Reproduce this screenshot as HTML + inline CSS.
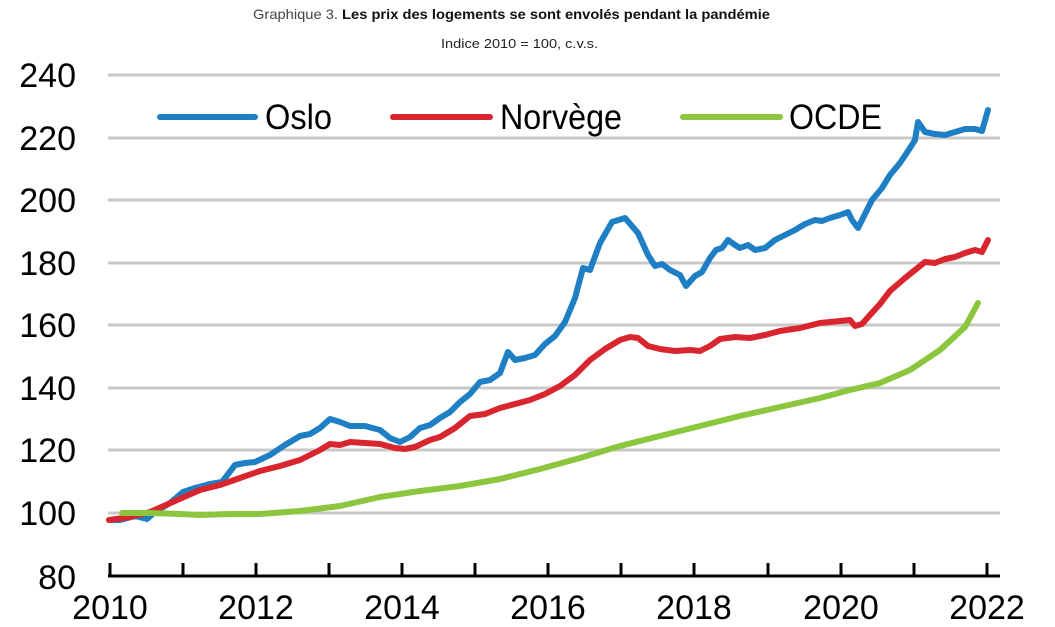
<!DOCTYPE html>
<html><head><meta charset="utf-8"><style>
body{margin:0;background:#fff;width:1055px;height:627px;overflow:hidden}
svg{display:block}
text{font-family:"Liberation Sans",sans-serif}
</style></head><body>
<svg width="1055" height="627" viewBox="0 0 1055 627">
<text x="253" y="19" font-size="14" textLength="517" lengthAdjust="spacingAndGlyphs" fill="#444"><tspan>Graphique 3. </tspan><tspan font-weight="bold" fill="#111">Les prix des logements se sont envolés pendant la pandémie</tspan></text>
<text x="441" y="48" font-size="13" textLength="157" lengthAdjust="spacingAndGlyphs" fill="#222">Indice 2010 = 100, c.v.s.</text>
<g stroke="#c8c8c8" stroke-width="3">
<line x1="108" x2="1000" y1="75" y2="75"/><line x1="108" x2="1000" y1="138" y2="138"/><line x1="108" x2="1000" y1="200" y2="200"/><line x1="108" x2="1000" y1="263" y2="263"/><line x1="108" x2="1000" y1="325" y2="325"/><line x1="108" x2="1000" y1="388" y2="388"/><line x1="108" x2="1000" y1="450" y2="450"/><line x1="108" x2="1000" y1="513" y2="513"/>
</g>
<g font-size="34" fill="#000" text-anchor="end">
<text x="76" y="87">240</text><text x="76" y="150">220</text><text x="76" y="212">200</text><text x="76" y="275">180</text><text x="76" y="337">160</text><text x="76" y="400">140</text><text x="76" y="462">120</text><text x="76" y="525">100</text><text x="76" y="589">80</text>
</g>
<g stroke="#000" stroke-width="3">
<line x1="108" x2="1000" y1="576" y2="576"/>
<line x1="110" x2="110" y1="563" y2="576"/><line x1="183" x2="183" y1="563" y2="576"/><line x1="256" x2="256" y1="563" y2="576"/><line x1="329" x2="329" y1="563" y2="576"/><line x1="402" x2="402" y1="563" y2="576"/><line x1="475" x2="475" y1="563" y2="576"/><line x1="548" x2="548" y1="563" y2="576"/><line x1="621" x2="621" y1="563" y2="576"/><line x1="694" x2="694" y1="563" y2="576"/><line x1="768" x2="768" y1="563" y2="576"/><line x1="841" x2="841" y1="563" y2="576"/><line x1="914" x2="914" y1="563" y2="576"/><line x1="987" x2="987" y1="563" y2="576"/>
</g>
<g font-size="34" fill="#000" text-anchor="middle">
<text x="110" y="619">2010</text><text x="256" y="619">2012</text><text x="402" y="619">2014</text><text x="548" y="619">2016</text><text x="694" y="619">2018</text><text x="841" y="619">2020</text><text x="987" y="619">2022</text>
</g>
<g fill="none" stroke-width="6" stroke-linejoin="round" stroke-linecap="round">
<polyline stroke="#1f7fc4" points="109,520 120,520 135,516 147,519 155,512 170,503 183,492 195,488 210,484 222,482 235,465 245,463 255,462 270,455 285,445 300,436 310,434 320,428 330,419 340,422 350,426 365,426 380,430 390,438 400,442 410,437 420,428 430,425 440,418 450,412 460,402 470,394 480,382 490,380 500,373 508,352 515,360 525,358 535,355 545,344 555,336 565,322 575,298 583,268 590,270 600,243 612,222 625,218 638,233 648,255 655,266 662,264 670,270 680,275 686,286 695,276 702,272 710,258 716,250 722,248 728,240 735,245 740,248 748,245 755,250 765,248 775,240 785,235 795,230 805,224 815,220 822,221 830,218 840,215 848,212 852,220 858,228 865,214 872,200 882,188 890,175 900,163 910,148 915,140 918,122 925,132 935,134 945,135 955,132 965,129 975,129 982,131 988,110"/>
<polyline stroke="#d9262e" points="109,520 130,517 150,512 175,501 200,490 220,485 240,478 260,471 280,466 300,460 320,450 330,444 340,445 350,442 365,443 380,444 395,448 405,449 415,447 430,440 440,437 455,428 470,416 485,414 500,408 515,404 530,400 545,394 560,386 575,375 590,360 605,349 620,340 630,337 638,338 648,346 660,349 675,351 690,350 700,351 710,346 720,339 735,337 750,338 765,335 780,331 800,328 820,323 840,321 850,320 855,326 862,324 870,315 880,304 890,291 905,278 915,270 925,262 935,263 945,259 955,257 965,253 975,250 982,252 988,240"/>
<polyline stroke="#8cc63f" points="122,513 150,513 180,514 200,515 230,514 260,514 300,511 340,506 380,497 420,491 460,486 500,479 540,469 580,458 620,446 660,436 700,426 740,416 780,407 820,398 850,390 880,383 910,370 940,350 965,327 978,303"/>
<line stroke="#1f7fc4" x1="160" x2="255" y1="117" y2="117"/>
<line stroke="#d9262e" x1="393" x2="490" y1="117" y2="117"/>
<line stroke="#8cc63f" x1="683" x2="780" y1="117" y2="117"/>
</g>
<g font-size="35" fill="#000">
<text x="265" y="129" textLength="67" lengthAdjust="spacingAndGlyphs">Oslo</text><text x="500" y="129" textLength="122" lengthAdjust="spacingAndGlyphs">Norvège</text><text x="789" y="129" textLength="93" lengthAdjust="spacingAndGlyphs">OCDE</text>
</g>
</svg>
</body></html>
